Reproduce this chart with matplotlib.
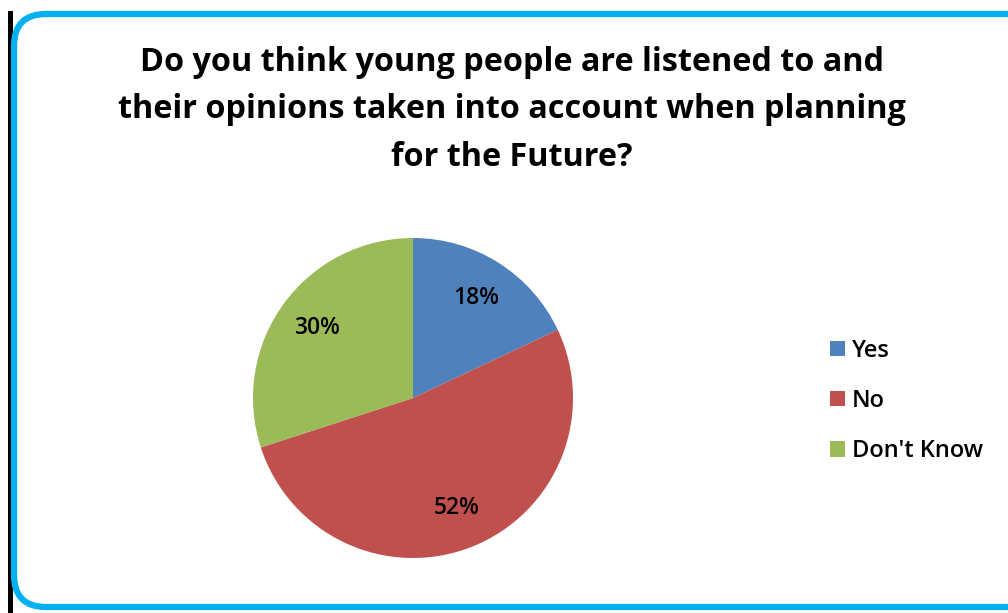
import matplotlib
matplotlib.use('Agg')
import matplotlib.pyplot as plt
from matplotlib.patches import FancyBboxPatch, Rectangle, Patch

# data
categories = ['Yes', 'No', "Don't Know"]
shares = [18, 52, 30]
colours = ['#4F81BD', '#C0504D', '#9BBB59']
title = ('Do you think young people are listened to and\n'
         'their opinions taken into account when planning\n'
         'for the Future?')

plt.rcParams['font.family'] = ['Open Sans', 'DejaVu Sans']

W, H = 1008, 613
fig = plt.figure(figsize=(W / 100, H / 100), dpi=100)

# background axes in pixel units for the frame
bg = fig.add_axes([0, 0, 1, 1], zorder=-5)
bg.set_xlim(0, W)
bg.set_ylim(H, 0)
bg.axis('off')
bg.add_patch(Rectangle((8, 11), 5, H - 11, facecolor='black', edgecolor='none'))
bg.add_patch(FancyBboxPatch((14, 14), W + 20, H - 20,
                            boxstyle='round,pad=0,rounding_size=32',
                            facecolor='white', edgecolor='#00B0F0',
                            linewidth=4.5))

fig.text(512 / W, 1 - 110 / H, title, ha='center', va='center',
         fontsize=23.3, fontweight='bold', linespacing=1.58, color='black')

# pie, centre (413, 398), radius 160 px
r = 160
ax = fig.add_axes([(413 - r) / W, (H - 398 - r) / H, 2 * r / W, 2 * r / H])
wedges, texts, autotexts = ax.pie(shares, colors=colours, startangle=90,
                                  counterclock=False, autopct='%d%%',
                                  pctdistance=0.74, radius=1,
                                  wedgeprops=dict(linewidth=0))
for t in autotexts:
    t.set_fontsize(16.5)
    t.set_fontweight('semibold')
ax.set_xlim(-1, 1)
ax.set_ylim(-1, 1)
ax.axis('off')

handles = [Patch(facecolor=c, edgecolor='none') for c in colours]
fig.legend(handles, categories, loc='center left',
           bbox_to_anchor=(809 / W, 1 - 401 / H), frameon=False,
           handlelength=0.62, handleheight=0.62,
           handletextpad=0.3, labelspacing=1.12,
           prop=dict(size=17, weight='semibold'))

fig.savefig('out.png', dpi=100)
